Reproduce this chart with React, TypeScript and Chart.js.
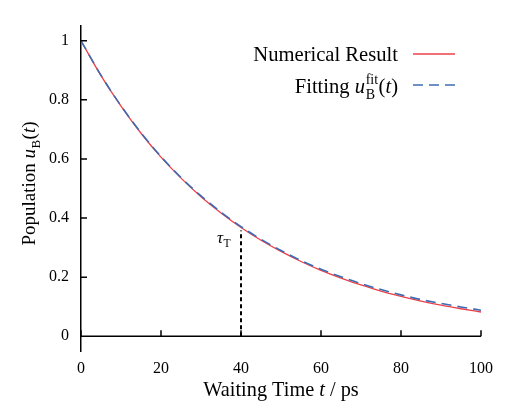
import React, { useEffect, useRef } from "react";
import { Chart, registerables } from "chart.js";

Chart.register(...registerables);

const tValues = [0, 5, 10, 15, 20, 25, 30, 35, 40, 45, 50, 55, 60, 65, 70, 75, 80, 85, 90, 95, 100];
const numerical = [1.0, 0.882, 0.779, 0.687, 0.606, 0.535, 0.472, 0.417, 0.368, 0.325, 0.287, 0.253, 0.223, 0.197, 0.174, 0.153, 0.135, 0.119, 0.105, 0.093, 0.082];
const fitting = [1.0, 0.883, 0.78, 0.689, 0.608, 0.537, 0.475, 0.42, 0.371, 0.328, 0.29, 0.256, 0.227, 0.201, 0.178, 0.158, 0.14, 0.124, 0.111, 0.099, 0.088];
const xTicks = [0, 20, 40, 60, 80, 100];
const yTicks = [0, 0.2, 0.4, 0.6, 0.8, 1];
const tauT = 40;

const FAMILY = "'Liberation Serif', 'Times New Roman', serif";
const RED = "rgb(236, 64, 72)";
const BLUE = "rgb(62, 108, 178)";

type Seg = { t?: string; it?: boolean; sup?: string; sub?: string };

function font(size: number, it?: boolean) {
  return `${it ? "italic " : ""}${size}px ${FAMILY}`;
}

function segWidth(ctx: CanvasRenderingContext2D, s: Seg, size: number) {
  if (s.t !== undefined) {
    ctx.font = font(size, s.it);
    return ctx.measureText(s.t).width;
  }
  ctx.font = font(size * 0.68);
  const a = s.sup ? ctx.measureText(s.sup).width : 0;
  const b = s.sub ? ctx.measureText(s.sub).width : 0;
  return Math.max(a, b) + size * 0.05;
}

function drawRich(ctx: CanvasRenderingContext2D, segs: Seg[], x: number, y: number, size: number, align: "left" | "center" | "right") {
  const widths = segs.map((s) => segWidth(ctx, s, size));
  const total = widths.reduce((a, b) => a + b, 0);
  let cx = align === "left" ? x : align === "center" ? x - total / 2 : x - total;
  ctx.textAlign = "left";
  ctx.textBaseline = "alphabetic";
  ctx.fillStyle = "#000";
  segs.forEach((s, i) => {
    if (s.t !== undefined) {
      ctx.font = font(size, s.it);
      ctx.fillText(s.t, cx, y);
    } else {
      ctx.font = font(size * 0.68);
      if (s.sup) ctx.fillText(s.sup, cx + size * 0.03, y - size * 0.42);
      if (s.sub) ctx.fillText(s.sub, cx + size * 0.03, y + size * 0.28);
    }
    cx += widths[i];
  });
}

const decor = {
  id: "decor",
  afterDatasetsDraw(chart: any) {
    const ctx: CanvasRenderingContext2D = chart.ctx;
    const xs = chart.scales.x;
    const ys = chart.scales.y;
    const y0 = ys.getPixelForValue(0);
    ctx.save();
    ctx.strokeStyle = "#000";
    ctx.lineWidth = 1.5;
    ctx.beginPath();
    ctx.moveTo(xs.left, y0);
    ctx.lineTo(xs.right, y0);
    xTicks.forEach((v) => {
      const px = xs.getPixelForValue(v);
      ctx.moveTo(px, y0);
      ctx.lineTo(px, y0 - 6);
    });
    yTicks.forEach((v) => {
      const py = ys.getPixelForValue(v);
      ctx.moveTo(xs.left, py);
      ctx.lineTo(xs.left + 6, py);
    });
    ctx.stroke();

    // tau line
    const idx = tValues.indexOf(tauT);
    const px = xs.getPixelForValue(tauT);
    const pyCurve = ys.getPixelForValue(numerical[idx]);
    ctx.setLineDash([4, 3]);
    ctx.lineWidth = 2;
    ctx.beginPath();
    ctx.moveTo(px, y0);
    ctx.lineTo(px, pyCurve + 3);
    ctx.stroke();
    ctx.setLineDash([]);

    drawRich(ctx, [{ t: "τ", it: true }, { sub: "T" }], px - 10, pyCurve + 15, 17, "right");

    // legend
    drawRich(ctx, [{ t: "Numerical Result" }], 398, 61, 20.6, "right");
    ctx.strokeStyle = RED;
    ctx.lineWidth = 1.3;
    ctx.beginPath();
    ctx.moveTo(413, 54);
    ctx.lineTo(455, 54);
    ctx.stroke();
    drawRich(ctx, [{ t: "Fitting " }, { t: "u", it: true }, { sup: "fit", sub: "B" }, { t: "(" }, { t: "t", it: true }, { t: ")" }], 398, 93, 20.6, "right");
    ctx.strokeStyle = BLUE;
    ctx.setLineDash([10, 6]);
    ctx.lineWidth = 1.5;
    ctx.beginPath();
    ctx.moveTo(413, 85);
    ctx.lineTo(455, 85);
    ctx.stroke();
    ctx.setLineDash([]);

    // axis titles
    drawRich(ctx, [{ t: "Waiting Time " }, { t: "t", it: true }, { t: " / ps" }], (xs.left + xs.right) / 2, 396, 20.3, "center");
    ctx.translate(35, (ys.top + ys.bottom) / 2 - 5);
    ctx.rotate(-Math.PI / 2);
    drawRich(ctx, [{ t: "Population " }, { t: "u", it: true }, { sub: "B" }, { t: "(" }, { t: "t", it: true }, { t: ")" }], 0, 0, 19, "center");
    ctx.restore();
  },
};

export default function App() {
  const ref = useRef<HTMLCanvasElement>(null);
  useEffect(() => {
    document.body.style.margin = "0";
    const chart = new Chart(ref.current!, {
      type: "line",
      data: {
        datasets: [
          {
            label: "Fitting",
            data: tValues.map((t, i) => ({ x: t, y: fitting[i] })),
            borderColor: BLUE,
            borderWidth: 1.6,
            borderDash: [10, 6],
            pointRadius: 0,
            cubicInterpolationMode: "monotone",
            order: 0,
          },
          {
            label: "Numerical Result",
            data: tValues.map((t, i) => ({ x: t, y: numerical[i] })),
            borderColor: RED,
            borderWidth: 1.3,
            pointRadius: 0,
            cubicInterpolationMode: "monotone",
            order: 1,
          },
        ],
      },
      options: {
        animation: false,
        responsive: false,
        devicePixelRatio: 1,
        layout: { padding: { top: 26, right: 29, left: 0, bottom: 0 } },
        plugins: { legend: { display: false }, tooltip: { enabled: false } },
        scales: {
          x: {
            type: "linear",
            min: 0,
            max: 100,
            position: "bottom",
            border: { display: false },
            grid: { display: false, drawTicks: false },
            ticks: { padding: 8, color: "#000", font: { family: FAMILY, size: 16 }, maxRotation: 0 },
            afterBuildTicks: (s: any) => {
              s.ticks = xTicks.map((v) => ({ value: v }));
            },
            afterFit: (s: any) => {
              s.height = 69;
            },
          },
          y: {
            type: "linear",
            min: -0.05,
            max: 1.05,
            border: { display: true, color: "#000", width: 1.5 },
            grid: { display: false, drawTicks: false },
            ticks: { padding: 12, color: "#000", font: { family: FAMILY, size: 16 }, callback: (v: any) => String(v) },
            afterBuildTicks: (s: any) => {
              s.ticks = yTicks.map((v) => ({ value: v }));
            },
            afterFit: (s: any) => {
              s.width = 81;
            },
          },
        },
      } as any,
      plugins: [decor],
    });
    return () => chart.destroy();
  }, []);
  return (
    <div style={{ width: 510, height: 420 }}>
      <canvas ref={ref} width={510} height={420} />
    </div>
  );
}
